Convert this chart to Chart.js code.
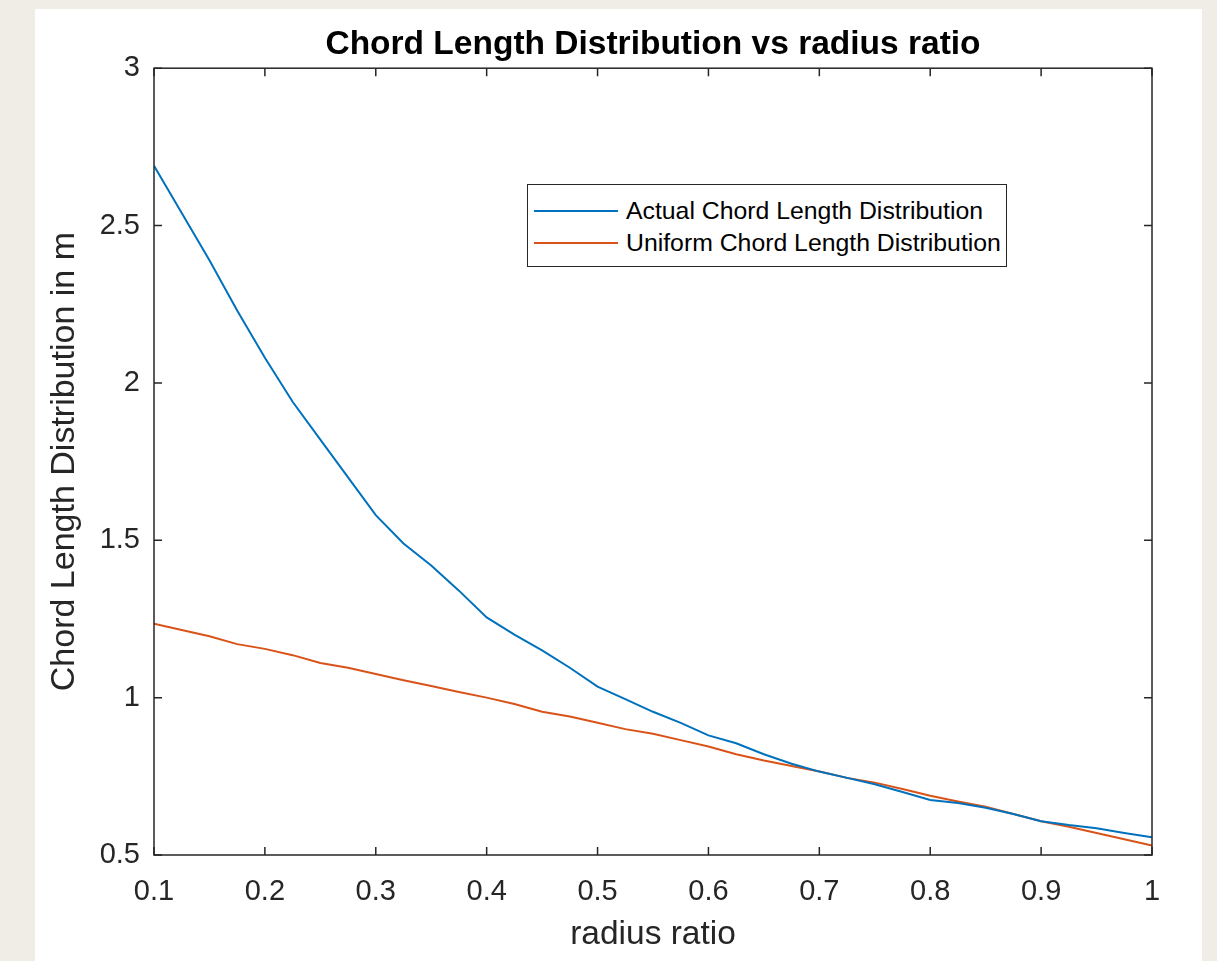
<!DOCTYPE html>
<html>
<head>
<title>Chord Length Distribution vs radius ratio</title>
<script src="https://cdn.jsdelivr.net/npm/chart.js"></script>
<style>
  body { margin: 0; background: #f0ede6; width: 1217px; height: 961px; overflow: hidden;
         font-family: "Liberation Sans", Arial, Helvetica, sans-serif; }
  #panel { position: absolute; left: 35px; top: 9px; width: 1167px; height: 952px; background: #fff; }
  #chart { position: absolute; left: 0; top: 0; }
  #legend { position: absolute; left: 492px; top: 175px; width: 478px; height: 81px;
            border: 1.5px solid #262626; background: #fff; }
  .row { position: absolute; left: 0; height: 30px; display: flex; align-items: center;
         font-size: 24.8px; color: #000; white-space: nowrap; }
  .swatch { width: 84px; height: 2px; margin-left: 6px; margin-right: 8px; }
</style>
</head>
<body>
<div id="panel">
  <canvas id="chart" width="1167" height="952"></canvas>
  <div id="legend"></div>
</div>

<script>
// radius ratio (x) and the two curves
const radiusRatio = [0.1, 0.125, 0.15, 0.175, 0.2, 0.225, 0.25, 0.275, 0.3, 0.325,
                     0.35, 0.375, 0.4, 0.425, 0.45, 0.475, 0.5, 0.525, 0.55, 0.575,
                     0.6, 0.625, 0.65, 0.675, 0.7, 0.725, 0.75, 0.775, 0.8, 0.825,
                     0.85, 0.875, 0.9, 0.925, 0.95, 0.975, 1.0];
const actualCLD = [2.69, 2.54, 2.39, 2.23, 2.08, 1.94, 1.82, 1.70, 1.58, 1.49,
                   1.42, 1.34, 1.255, 1.20, 1.15, 1.095, 1.035, 0.995, 0.955, 0.92,
                   0.88, 0.855, 0.82, 0.79, 0.765, 0.745, 0.725, 0.70, 0.675, 0.665,
                   0.65, 0.63, 0.607, 0.595, 0.585, 0.57, 0.556];
const uniformCLD = [1.235, 1.215, 1.195, 1.17, 1.155, 1.135, 1.11, 1.095, 1.075, 1.055,
                    1.037, 1.018, 1.0, 0.98, 0.955, 0.94, 0.92, 0.90, 0.885, 0.865,
                    0.845, 0.82, 0.80, 0.783, 0.765, 0.745, 0.73, 0.71, 0.688, 0.67,
                    0.653, 0.63, 0.607, 0.59, 0.57, 0.55, 0.53];

const seriesNames = ['Actual Chord Length Distribution', 'Uniform Chord Length Distribution'];
const seriesColors = ['#0072BD', '#D95319'];

const xTickValues = [0.1, 0.2, 0.3, 0.4, 0.5, 0.6, 0.7, 0.8, 0.9, 1];
const xTickLabels = ['0.1', '0.2', '0.3', '0.4', '0.5', '0.6', '0.7', '0.8', '0.9', '1'];
const yTickValues = [0.5, 1, 1.5, 2, 2.5, 3];
const yTickLabels = ['0.5', '1', '1.5', '2', '2.5', '3'];

const FONT = '"Liberation Sans", Arial, Helvetica, sans-serif';
const INK = '#262626';

// box round the plot with inward ticks on all four sides, matlab style
const axesBox = {
  id: 'axesBox',
  afterDraw(chart) {
    const { ctx, chartArea: a, scales: { x, y } } = chart;
    const len = 8;
    ctx.save();
    ctx.strokeStyle = INK;
    ctx.lineWidth = 1.5;
    ctx.beginPath();
    x.ticks.forEach(t => {
      const px = x.getPixelForValue(t.value);
      ctx.moveTo(px, a.bottom); ctx.lineTo(px, a.bottom - len);
      ctx.moveTo(px, a.top); ctx.lineTo(px, a.top + len);
    });
    y.ticks.forEach(t => {
      const py = y.getPixelForValue(t.value);
      ctx.moveTo(a.left, py); ctx.lineTo(a.left + len, py);
      ctx.moveTo(a.right, py); ctx.lineTo(a.right - len, py);
    });
    ctx.stroke();
    ctx.strokeRect(a.left, a.top, a.right - a.left, a.bottom - a.top);
    ctx.restore();
  }
};

const datasets = [actualCLD, uniformCLD].map((vals, i) => ({
  label: seriesNames[i],
  data: radiusRatio.map((r, k) => ({ x: r, y: vals[k] })),
  borderColor: seriesColors[i],
  backgroundColor: seriesColors[i],
  borderWidth: 2,
  pointRadius: 0,
  tension: 0,
  fill: false
}));

new Chart(document.getElementById('chart'), {
  type: 'line',
  data: { datasets: datasets },
  options: {
    responsive: false,
    animation: false,
    layout: { padding: { left: 0, right: 50, top: 0, bottom: 0 } },
    plugins: {
      legend: { display: false },
      tooltip: { enabled: false },
      title: {
        display: true,
        fullSize: false,
        text: 'Chord Length Distribution vs radius ratio',
        color: '#000',
        font: { family: FONT, size: 33.5, weight: 'bold' },
        padding: { top: 16, bottom: 3 }
      }
    },
    scales: {
      x: {
        type: 'linear',
        min: 0.1,
        max: 1,
        grid: { display: false, drawTicks: false },
        border: { display: false },
        afterBuildTicks: s => { s.ticks = xTickValues.map(v => ({ value: v })); },
        afterFit: s => { s.height = 106; },
        ticks: {
          color: INK,
          padding: 20,
          maxRotation: 0,
          font: { family: FONT, size: 29 },
          callback: (v, i) => xTickLabels[i]
        },
        title: {
          display: true,
          text: 'radius ratio',
          color: INK,
          font: { family: FONT, size: 33.5 },
          padding: { top: 0, bottom: 6 }
        }
      },
      y: {
        type: 'linear',
        min: 0.5,
        max: 3,
        grid: { display: false, drawTicks: false },
        border: { display: false },
        afterBuildTicks: s => { s.ticks = yTickValues.map(v => ({ value: v })); },
        afterFit: s => { s.width = 119; },
        ticks: {
          color: INK,
          padding: 14,
          font: { family: FONT, size: 29 },
          callback: (v, i) => yTickLabels[i]
        },
        title: {
          display: true,
          text: 'Chord Length Distribution in m',
          color: INK,
          font: { family: FONT, size: 34 },
          padding: { top: 9, bottom: 0 }
        }
      }
    }
  },
  plugins: [axesBox]
});

// legend box, as in the matlab figure
const legend = document.getElementById('legend');
seriesNames.forEach((name, i) => {
  const row = document.createElement('div');
  row.className = 'row';
  row.style.top = (11 + i * 32) + 'px';
  const sw = document.createElement('span');
  sw.className = 'swatch';
  sw.style.background = seriesColors[i];
  const txt = document.createElement('span');
  txt.textContent = name;
  row.appendChild(sw);
  row.appendChild(txt);
  legend.appendChild(row);
});
</script>
</body>
</html>
